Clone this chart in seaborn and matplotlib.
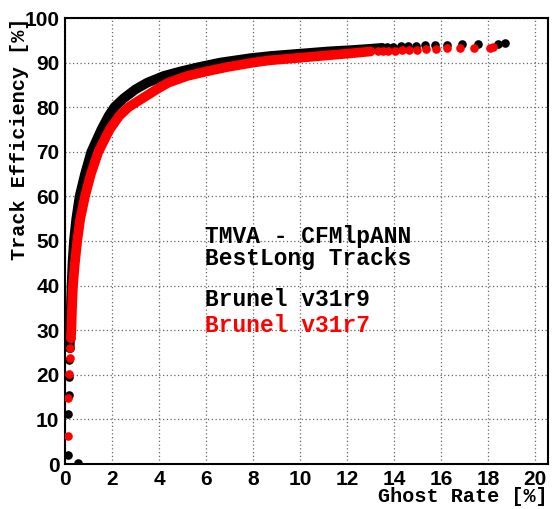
import numpy as np
import pandas as pd
import matplotlib
matplotlib.use("Agg")
import matplotlib.pyplot as plt
import seaborn as sns
from matplotlib.ticker import MultipleLocator

# ---- data: Brunel v31r9 (black) ----
r9_low_ghost = [0.55, 0.13, 0.13, 0.15, 0.17, 0.18, 0.20]
r9_low_eff = [0.3, 2.0, 11.2, 15.5, 19.5, 23.3, 26.0]
r9_core_ghost = [0.20, 0.22, 0.25, 0.28, 0.32, 0.38, 0.48, 0.62, 0.85, 1.12, 1.55, 1.85, 2.10,
                 2.50, 3.00, 3.50, 4.20, 4.90, 5.70, 6.60, 7.90, 8.80, 10.0, 11.2, 12.2, 13.0, 13.5]
r9_core_eff = [26.0, 30.0, 35.0, 40.0, 45.0, 50.0, 55.0, 60.0, 65.0, 70.0, 75.0, 78.0, 80.0,
               82.0, 84.0, 85.5, 87.0, 88.0, 89.0, 90.0, 91.0, 91.5, 92.0, 92.5, 92.8, 93.1, 93.3]
r9_tail_ghost = [13.72, 13.97, 14.28, 14.60, 14.94, 15.32, 15.76, 16.27, 16.88, 17.59, 18.44, 18.72]
r9_tail_eff = [93.4, 93.6, 93.7, 93.7, 93.8, 93.9, 93.9, 94.0, 94.1, 94.2, 94.2, 94.3]

# ---- data: Brunel v31r7 (red) ----
r7_low_ghost = [0.13, 0.13, 0.17, 0.20, 0.22, 0.25]
r7_low_eff = [6.3, 14.8, 20.2, 23.8, 26.0, 28.2]
r7_core_ghost = [0.25, 0.27, 0.30, 0.34, 0.42, 0.52, 0.65, 0.85, 1.10, 1.42, 1.90, 2.30, 2.70,
                 3.30, 3.90, 4.40, 5.20, 6.00, 6.90, 8.00, 8.70, 9.80, 10.9, 12.0, 13.0]
r7_core_eff = [28.2, 30.0, 35.0, 40.0, 45.0, 50.0, 55.0, 60.0, 65.0, 70.0, 75.0, 78.0, 80.0,
               82.0, 84.0, 85.5, 87.0, 88.0, 89.0, 90.0, 90.5, 91.0, 91.5, 92.0, 92.5]
r7_tail_ghost = [13.30, 13.52, 13.76, 14.04, 14.33, 14.65, 14.99, 15.36, 15.79, 16.27, 16.81,
                 17.42, 18.09, 18.23]
r7_tail_eff = [92.6, 92.7, 92.7, 92.7, 92.8, 92.8, 92.9, 93.0, 93.1, 93.2, 93.2, 93.3, 93.3, 93.4]

x_ticks = [0, 2, 4, 6, 8, 10, 12, 14, 16, 18, 20]
y_ticks = [0, 10, 20, 30, 40, 50, 60, 70, 80, 90, 100]

sns.set_style("white")
plt.rcParams['font.family'] = ['Liberation Sans', 'DejaVu Sans']
plt.rcParams['text.color'] = 'black'
plt.rcParams['xtick.color'] = 'black'
plt.rcParams['ytick.color'] = 'black'
plt.rcParams['axes.labelcolor'] = 'black'

fig = plt.figure(figsize=(5.52, 5.09), dpi=100)
ax = fig.add_axes([65 / 552, 1 - 464 / 509, (548 - 65) / 552, (464 - 18) / 509])

ms = 6.2
lw = 7.0
series = [
    ("black", r9_low_ghost, r9_low_eff, r9_core_ghost, r9_core_eff, r9_tail_ghost, r9_tail_eff),
    ("#ff0000", r7_low_ghost, r7_low_eff, r7_core_ghost, r7_core_eff, r7_tail_ghost, r7_tail_eff),
]
for color, lg, le, cg, ce, tg, te in series:
    core = pd.DataFrame({"ghost": cg, "eff": ce})
    sns.lineplot(data=core, x="ghost", y="eff", sort=False, color=color, linewidth=lw,
                 solid_capstyle="round", solid_joinstyle="round", ax=ax, estimator=None)
    pts = pd.DataFrame({"ghost": lg + tg, "eff": le + te})
    sns.scatterplot(data=pts, x="ghost", y="eff", color=color, s=ms ** 2,
                    linewidth=0, ax=ax, zorder=3)

ax.set_xlim(0, (548 - 65) / 23.5)
ax.set_ylim(0, 100)
ax.set_xticks(x_ticks)
ax.set_yticks(y_ticks)
ax.xaxis.set_minor_locator(MultipleLocator(0.5))
ax.yaxis.set_minor_locator(MultipleLocator(2))
ax.tick_params(which="major", direction="in", length=9.5, width=1.3, top=False, right=False,
               labelsize=15, pad=4, colors="black")
ax.tick_params(which="minor", direction="in", length=4.7, width=1.0, top=False, right=False,
               colors="black")
for lab in ax.get_xticklabels() + ax.get_yticklabels():
    lab.set_fontweight("bold")
ax.grid(True, which="major", linestyle=(0, (1, 2)), color="#666666", linewidth=0.9)
for sp in ax.spines.values():
    sp.set_linewidth(1.5)
    sp.set_color("black")
ax.set_xlabel("")
ax.set_ylabel("")

mono = ['Liberation Mono', 'DejaVu Sans Mono']
fs = 16.5
ax.text(5.96, 48.6, "TMVA - CFMlpANN\nBestLong Tracks", family=mono, fontsize=fs,
        fontweight="bold", va="center", color="black", linespacing=0.93)
ax.text(5.96, 36.8, "Brunel v31r9", family=mono, fontsize=fs, fontweight="bold", va="center",
        color="black")
ax.text(5.96, 31.1, "Brunel v31r7", family=mono, fontsize=fs, fontweight="bold", va="center",
        color="#ff0000")

fig.text(20 / 552, 1 - 18 / 509, "Track Efficiency [%]", family=mono, fontsize=14.5,
         fontweight="bold", rotation=90, ha="center", va="top", color="black")
fig.text(548 / 552, 1 - 497 / 509, "Ghost Rate [%]", family=mono, fontsize=14.5,
         fontweight="bold", ha="right", va="center", color="black")

fig.savefig("out.png", dpi=100)
